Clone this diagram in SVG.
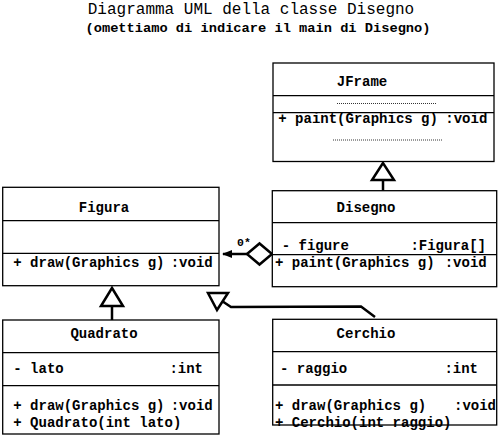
<svg xmlns="http://www.w3.org/2000/svg" width="503" height="442" viewBox="0 0 503 442">
<style>
text{font-family:"Liberation Mono","Courier New",monospace;fill:#000}
.t{font-size:16px}
.s{font-size:13.7px;font-weight:bold}
.b{font-size:14px;font-weight:bold}
.n{text-anchor:middle}
.e{text-anchor:end}
.box{fill:#fff;stroke:#000;stroke-width:1.3}
.div{stroke:#000;stroke-width:1.3}
.dot{stroke:#000;stroke-width:0.8;stroke-dasharray:1,1}
.c{fill:none;stroke:#000;stroke-width:2.5}
.tri{fill:#fff;stroke:#000;stroke-width:2.5;stroke-linejoin:miter}
</style>
<defs>
<marker id="ah" viewBox="0 0 10 10" refX="9" refY="5" markerWidth="4" markerHeight="4" orient="auto">
<path d="M0,1 L10,5 L0,9 Z" fill="#000"/>
</marker>
</defs>
<text class="t n" x="251" y="14">Diagramma UML della classe Disegno</text>
<text class="s n" x="258" y="32">(omettiamo di indicare il main di Disegno)</text>

<g id="connectors">
<line class="c" x1="383" y1="180" x2="383" y2="192"/>
<polygon class="tri" points="383,163 372,180 394,180"/>
<line class="c" x1="112" y1="306" x2="112" y2="320"/>
<polygon class="tri" points="112,288 101,306 123,306"/>
<polyline class="c" points="375,317 361,306.5 231,307 222,301"/>
<polygon class="tri" points="208,293 228,293 217,310"/>
<line class="c" x1="247" y1="254" x2="223" y2="254" marker-end="url(#ah)"/>
<polygon class="tri" points="247,254 259.5,243.5 272,254 259.5,264.5"/>
<text x="237" y="246" style="font-size:11.5px;font-weight:bold">0*</text>
</g>

<g id="JFrame">
<rect class="box" x="273" y="63" width="221" height="98.5"/>
<line class="div" x1="273" y1="95.7" x2="494" y2="95.7"/>
<line class="div" x1="273" y1="112.7" x2="494" y2="112.7"/>
<text class="b n" x="362" y="86">JFrame</text>
<line class="dot" x1="337" y1="103.5" x2="437" y2="103.5"/>
<text class="b" x="278.3" y="122.7">+ paint(Graphics g)</text>
<text class="b e" x="487.3" y="122.7">:void</text>
<line class="dot" x1="333" y1="140" x2="442" y2="140"/>
</g>

<g id="Figura">
<rect class="box" x="2.7" y="187.3" width="216.3" height="98.4"/>
<line class="div" x1="2.7" y1="220.7" x2="219" y2="220.7"/>
<line class="div" x1="2.7" y1="253.3" x2="219" y2="253.3"/>
<text class="b n" x="104" y="211.7">Figura</text>
<text class="b" x="13.3" y="267.3">+ draw(Graphics g)</text>
<text class="b e" x="212.7" y="267.3">:void</text>
</g>

<g id="Disegno">
<rect class="box" x="272.3" y="190.7" width="224.4" height="96"/>
<line class="div" x1="272.3" y1="222.7" x2="496.7" y2="222.7"/>
<line class="div" x1="272.3" y1="254.7" x2="496.7" y2="254.7"/>
<text class="b n" x="366" y="211.7">Disegno</text>
<text class="b" x="281.7" y="250">- figure</text>
<text class="b e" x="486" y="250">:Figura[]</text>
<text class="b" x="275" y="267.3">+ paint(Graphics g)</text>
<text class="b e" x="486.7" y="267.3">:void</text>
</g>

<g id="Quadrato">
<rect class="box" x="2.7" y="320" width="216.3" height="114"/>
<line class="div" x1="2.7" y1="352.7" x2="219" y2="352.7"/>
<line class="div" x1="2.7" y1="385.7" x2="219" y2="385.7"/>
<text class="b n" x="104" y="338.3">Quadrato</text>
<text class="b" x="13.3" y="372.7">- lato</text>
<text class="b e" x="203" y="372.7">:int</text>
<text class="b" x="13.3" y="410">+ draw(Graphics g)</text>
<text class="b e" x="212.7" y="410">:void</text>
<text class="b" x="13.3" y="426.7">+ Quadrato(int lato)</text>
</g>

<g id="Cerchio">
<rect class="box" x="272.7" y="319.3" width="224" height="105.7"/>
<line class="div" x1="272.7" y1="351.7" x2="496.7" y2="351.7"/>
<line class="div" x1="272.7" y1="385" x2="496.7" y2="385"/>
<text class="b n" x="366" y="338.3">Cerchio</text>
<text class="b" x="280" y="372.7">- raggio</text>
<text class="b e" x="478" y="372.7">:int</text>
<text class="b" x="275" y="410">+ draw(Graphics g)</text>
<text class="b e" x="496" y="410">:void</text>
<text class="b" x="275" y="426.7">+ Cerchio(int raggio)</text>
</g>
</svg>
